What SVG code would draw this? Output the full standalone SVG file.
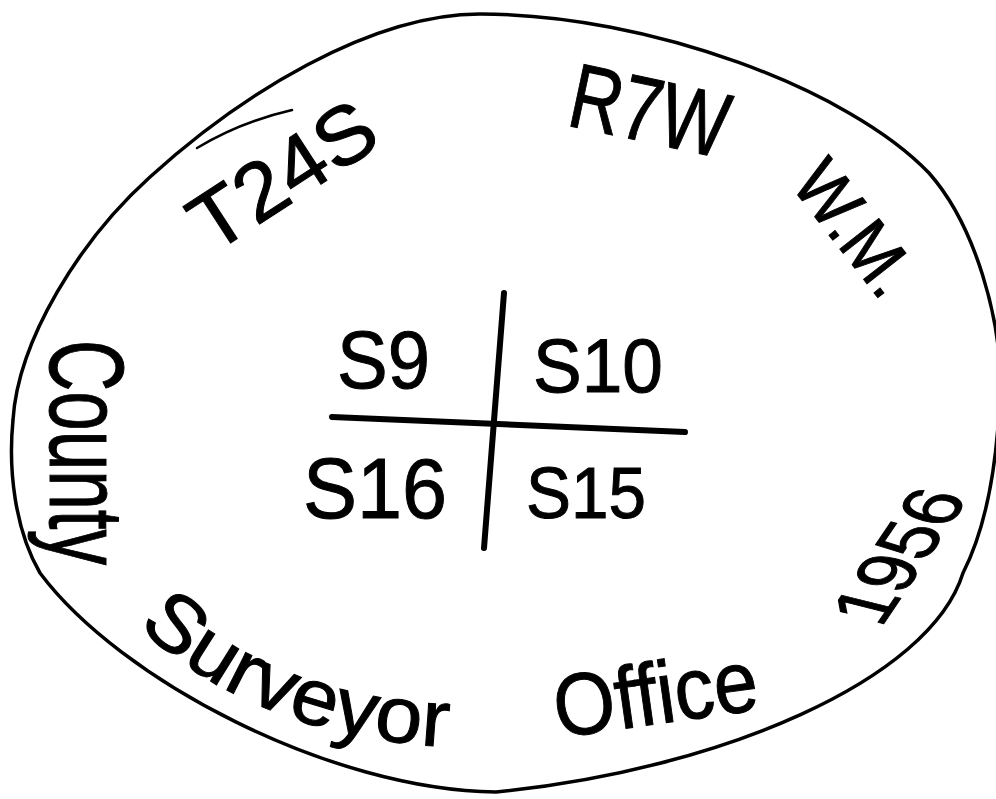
<svg xmlns="http://www.w3.org/2000/svg" width="996" height="799" viewBox="0 0 996 799">
<style>
  .hand { font-family: "Liberation Sans", Arial, sans-serif; fill: #000; stroke: #000; stroke-width: 1; }
  .ink { fill: none; stroke: #000; stroke-linecap: round; stroke-linejoin: round; }
</style>
<defs>
  <path id="surveyorPath" d="M138,626 Q262,745 480,748"/>
</defs>
<rect width="996" height="799" fill="#fff"/>
<g id="outline">
  <path class="ink" stroke-width="3.5" d="M480,14 C650,14 850,90 929,173 C975,225 1002,320 1000,390 C998,450 990,520 963,573 C930,680 720,770 496,792 C330,790 120,680 40,573 C15,530 8,470 13,420 C18,340 80,240 150,177 C240,95 370,14 480,14 Z"/>
  <path class="ink" stroke-width="2.5" d="M197,148 Q240,122 292,110"/>
</g>
<g id="cross">
  <path class="ink" stroke-width="6" d="M504,293 L484,548"/>
  <path class="ink" stroke-width="6" d="M332,417 L685,432"/>
</g>
<g id="sections">
  <text class="hand" x="337" y="388" font-size="82" textLength="93" lengthAdjust="spacingAndGlyphs">S9</text>
  <text class="hand" x="533" y="392" font-size="76" textLength="130" lengthAdjust="spacingAndGlyphs">S10</text>
  <text class="hand" x="303" y="518" font-size="86" textLength="144" lengthAdjust="spacingAndGlyphs">S16</text>
  <text class="hand" x="526" y="518" font-size="72" textLength="120" lengthAdjust="spacingAndGlyphs">S15</text>
</g>
<g id="rim-text">
  <text class="hand" transform="translate(212,255) rotate(-33)" font-size="82" textLength="205" lengthAdjust="spacingAndGlyphs">T24S</text>
  <text class="hand" transform="translate(565,125) rotate(12)" font-size="92" textLength="160" lengthAdjust="spacingAndGlyphs">R7W</text>
  <text class="hand" transform="translate(855,228) rotate(52)" x="0" y="25" text-anchor="middle" font-size="72" textLength="150" lengthAdjust="spacingAndGlyphs">W.M.</text>
  <text class="hand" transform="translate(898,556) rotate(-56) skewX(20)" x="0" y="26" text-anchor="middle" font-size="74" textLength="158" lengthAdjust="spacingAndGlyphs">1956</text>
  <text class="hand" transform="translate(50,340) rotate(90)" font-size="105" textLength="225" lengthAdjust="spacingAndGlyphs">County</text>
  <text class="hand" font-size="80"><textPath href="#surveyorPath" textLength="340" lengthAdjust="spacingAndGlyphs">Surveyor</textPath></text>
  <text class="hand" transform="translate(558,738) rotate(-8)" font-size="88" textLength="205" lengthAdjust="spacingAndGlyphs">Office</text>
</g>
</svg>
